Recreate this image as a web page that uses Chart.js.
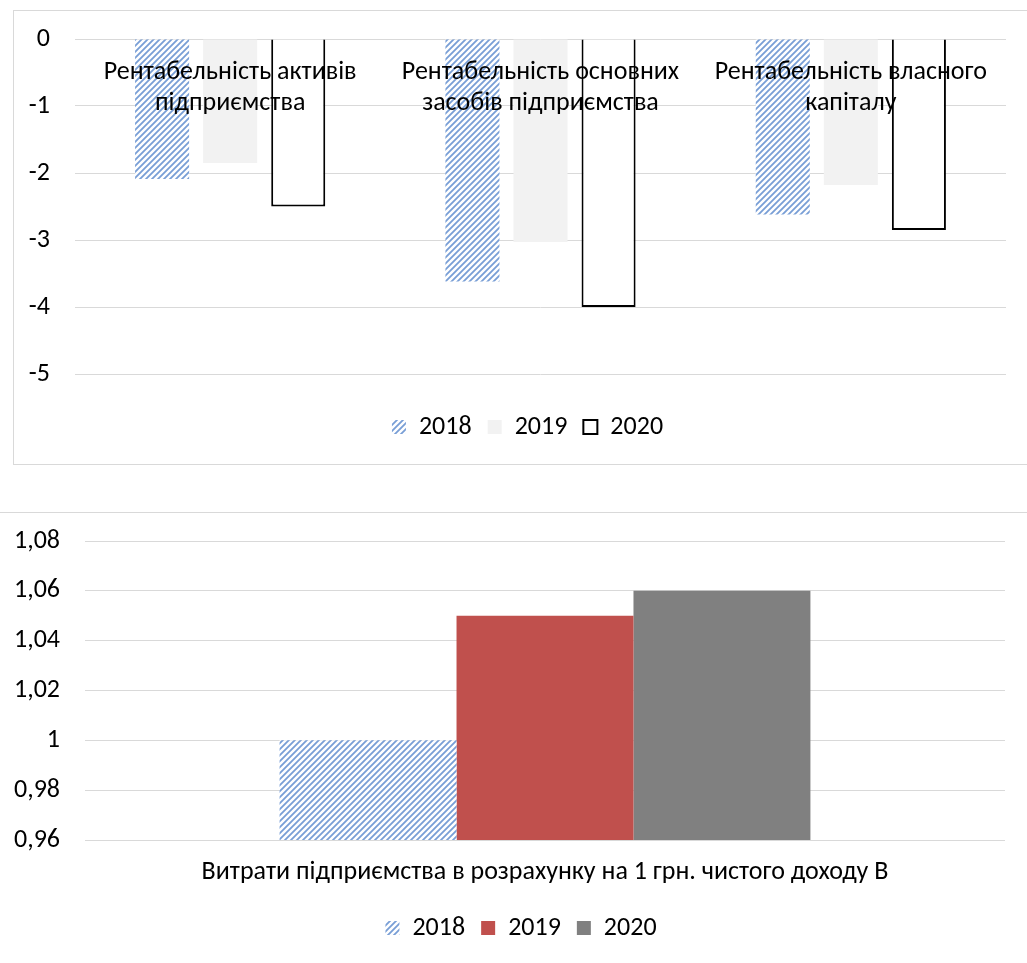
<!DOCTYPE html>
<html>
<head>
<meta charset="utf-8">
<script src="https://cdn.jsdelivr.net/npm/chart.js@4.4.1/dist/chart.umd.min.js"></script>
<style>
  html, body { margin: 0; padding: 0; background: #fff; width: 1027px; height: 963px; overflow: hidden; position: relative; }
  #frameTop { position: absolute; left: 13px; top: 10px; width: 1100px; height: 453px; border: 1px solid #d9d9d9; }
  #wrapTop { position: absolute; left: 14px; top: 11px; width: 1027px; height: 453px; }
  #lineBottom { position: absolute; left: 0; top: 512px; width: 1027px; height: 0; border-top: 1px solid #d9d9d9; }
  #wrapBottom { position: absolute; left: 0; top: 513px; width: 1042px; height: 450px; }
</style>
</head>
<body>
<div id="frameTop"></div>
<div id="wrapTop"><canvas id="chartTop"></canvas></div>
<div id="lineBottom"></div>
<div id="wrapBottom"><canvas id="chartBottom"></canvas></div>
<script>
// ---- data: profitability indicators (top chart) ----
const profitCategories = [
  ['Рентабельність активів', 'підприємства'],
  ['Рентабельність основних', 'засобів підприємства'],
  ['Рентабельність власного', 'капіталу']
];
const profit2018 = [-2.09, -3.62, -2.62];
const profit2019 = [-1.85, -3.03, -2.18];
const profit2020 = [-2.50, -4.00, -2.85];
const profitTicks = { min: -5, max: 0, step: 1 };

// ---- data: costs per 1 UAH of net income (bottom chart) ----
const costCategories = ['Витрати підприємства в розрахунку на 1 грн. чистого доходу В'];
const cost2018 = [1.00];
const cost2019 = [1.05];
const cost2020 = [1.06];
const costTicks = { min: 0.96, max: 1.08, step: 0.02 };

const seriesNames = ['2018', '2019', '2020'];

const FONT = 'Carlito, Lato, sans-serif';
const FONT_SIZE = 26;

// diagonal light-blue hatch used for the 2018 series
function makeHatch() {
  const s = 6;
  const c = document.createElement('canvas');
  c.width = s; c.height = s;
  const g = c.getContext('2d');
  g.fillStyle = '#ffffff';
  g.fillRect(0, 0, s, s);
  g.strokeStyle = 'rgb(120,158,214)';
  g.lineWidth = 1.8;
  g.beginPath();
  g.moveTo(0, s); g.lineTo(s, 0);
  g.moveTo(-s / 2, s / 2); g.lineTo(s / 2, -s / 2);
  g.moveTo(s / 2, s * 1.5); g.lineTo(s * 1.5, s / 2);
  g.stroke();
  return g.createPattern(c, 'repeat');
}
const hatch = makeHatch();

Chart.defaults.font.family = FONT;
Chart.defaults.font.size = FONT_SIZE;
Chart.defaults.color = '#000';
Chart.defaults.animation = false;

const decimalComma = v => String(Number(v.toFixed(2))).replace('.', ',');

// value axis with a fixed width and no extra vertical padding
const fixedValueAxis = width => s => {
  s.width = width;
  s.paddingTop = 0;
  s.paddingBottom = 0;
};

// empty axis on the right that only reserves margin beside the plot
const rightMargin = width => ({
  type: 'linear',
  position: 'right',
  display: true,
  ticks: { display: false },
  grid: { display: false, drawTicks: false },
  border: { display: false },
  afterFit: fixedValueAxis(width)
});

// draws the multi-line category names inside the plot, over the bars
const insideCategoryLabels = {
  id: 'insideCategoryLabels',
  afterDatasetsDraw(chart) {
    const ctx = chart.ctx;
    const xs = chart.scales.x;
    const top = chart.chartArea.top;
    ctx.save();
    ctx.font = FONT_SIZE + 'px ' + FONT;
    ctx.fillStyle = '#000';
    ctx.textAlign = 'center';
    ctx.textBaseline = 'middle';
    chart.data.labels.forEach((lines, i) => {
      const x = xs.getPixelForValue(i);
      lines.forEach((t, k) => ctx.fillText(t, x, top + 33 + k * 31));
    });
    ctx.restore();
  }
};

const legendOptions = {
  position: 'bottom',
  labels: { boxWidth: 14, boxHeight: 14, padding: 16, font: { size: FONT_SIZE } }
};

new Chart(document.getElementById('chartTop'), {
  type: 'bar',
  data: {
    labels: profitCategories,
    datasets: [
      { label: seriesNames[0], data: profit2018, backgroundColor: hatch, borderWidth: 0 },
      { label: seriesNames[1], data: profit2019, backgroundColor: '#f2f2f2', borderWidth: 0 },
      { label: seriesNames[2], data: profit2020, backgroundColor: '#ffffff', borderColor: '#000000', borderWidth: 2 }
    ]
  },
  options: {
    responsive: true,
    maintainAspectRatio: false,
    categoryPercentage: 0.658,
    barPercentage: 0.794,
    layout: { padding: { left: 0, right: 0, top: 28, bottom: 14 } },
    scales: {
      x: {
        display: true,
        ticks: { display: false },
        grid: { display: false, drawTicks: false },
        border: { display: false },
        afterFit: s => { s.height = 24; s.paddingLeft = 0; s.paddingRight = 0; }
      },
      y: {
        min: profitTicks.min, max: profitTicks.max,
        ticks: { stepSize: profitTicks.step, padding: 25, callback: v => String(v) },
        grid: { color: '#d9d9d9', lineWidth: 1, drawTicks: false },
        border: { display: false },
        afterFit: fixedValueAxis(61)
      },
      yRight: rightMargin(35)
    },
    plugins: {
      tooltip: { enabled: false },
      legend: legendOptions
    }
  },
  plugins: [insideCategoryLabels]
});

new Chart(document.getElementById('chartBottom'), {
  type: 'bar',
  data: {
    labels: costCategories,
    datasets: [
      { label: seriesNames[0], data: cost2018, backgroundColor: hatch, borderWidth: 0 },
      { label: seriesNames[1], data: cost2019, backgroundColor: '#c0504d', borderWidth: 0 },
      { label: seriesNames[2], data: cost2020, backgroundColor: '#808080', borderWidth: 0 }
    ]
  },
  options: {
    responsive: true,
    maintainAspectRatio: false,
    categoryPercentage: 0.577,
    barPercentage: 1.0,
    layout: { padding: { left: 0, right: 0, top: 28, bottom: 12 } },
    scales: {
      x: {
        grid: { display: false, drawTicks: false },
        border: { display: false },
        ticks: { padding: 17 },
        afterFit: s => { s.height = 59; s.paddingLeft = 0; s.paddingRight = 0; }
      },
      y: {
        min: costTicks.min, max: costTicks.max,
        ticks: { stepSize: costTicks.step, padding: 25, callback: decimalComma },
        grid: { color: '#d9d9d9', lineWidth: 1, drawTicks: false },
        border: { display: false },
        afterFit: fixedValueAxis(85)
      },
      yRight: rightMargin(37)
    },
    plugins: {
      tooltip: { enabled: false },
      legend: legendOptions
    }
  }
});
</script>
</body>
</html>
